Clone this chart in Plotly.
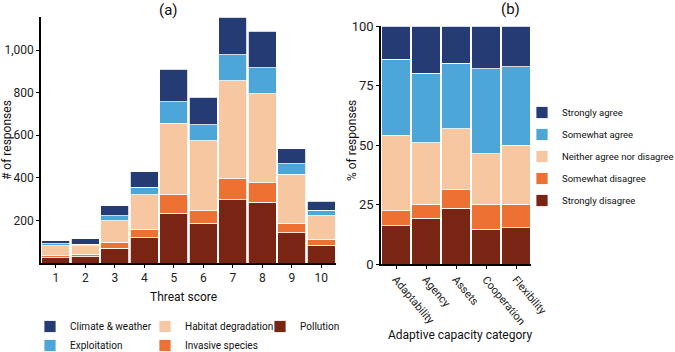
import plotly.graph_objects as go

# ---------- Panel (a) data ----------
threat_scores = [1, 2, 3, 4, 5, 6, 7, 8, 9, 10]
pollution = [25, 30, 69, 119, 233, 186, 297, 286, 141, 84]
invasive_species = [10, 11, 29, 40, 87, 59, 98, 94, 45, 27]
habitat_degradation = [45, 39, 100, 161, 336, 330, 460, 415, 231, 112]
exploitation = [10, 8, 25, 36, 100, 75, 122, 121, 50, 25]
climate_weather = [15, 26, 46, 72, 153, 128, 178, 172, 69, 41]

# ---------- Panel (b) data ----------
capacity_categories = ["Adaptability", "Agency", "Assets", "Cooperation", "Flexibility"]
strongly_disagree = [16.0, 19.2, 23.5, 14.6, 15.3]
somewhat_disagree = [6.4, 5.9, 7.8, 10.3, 9.9]
neither = [31.6, 25.9, 25.5, 21.5, 24.7]
somewhat_agree = [32.1, 29.1, 27.5, 35.6, 33.0]
strongly_agree = [13.9, 19.9, 15.7, 18.0, 17.1]

C_NAVY = "#243B73"
C_LBLUE = "#4DA6D8"
C_PEACH = "#F6C7A0"
C_ORANGE = "#EE7134"
C_DRED = "#7A2514"

FONT = "Roboto, Open Sans, sans-serif"
W, H = 675, 352

fig = go.Figure()

a_series = [
    ("Pollution", pollution, C_DRED, "legend3"),
    ("Invasive species", invasive_species, C_ORANGE, "legend2"),
    ("Habitat degradation", habitat_degradation, C_PEACH, "legend2"),
    ("Exploitation", exploitation, C_LBLUE, "legend"),
    ("Climate & weather", climate_weather, C_NAVY, "legend"),
]
for name, vals, col, lg in a_series:
    fig.add_trace(go.Bar(
        x=threat_scores, y=vals, name=name, marker_color=col,
        marker_line=dict(color="white", width=0.8),
        xaxis="x", yaxis="y", legend=lg,
    ))

b_series = [
    ("Strongly disagree", strongly_disagree, C_DRED, 5),
    ("Somewhat disagree", somewhat_disagree, C_ORANGE, 4),
    ("Neither agree nor disagree", neither, C_PEACH, 3),
    ("Somewhat agree", somewhat_agree, C_LBLUE, 2),
    ("Strongly agree", strongly_agree, C_NAVY, 1),
]
for name, vals, col, rank in b_series:
    fig.add_trace(go.Bar(
        x=capacity_categories, y=vals, name=name, marker_color=col,
        marker_line=dict(color="white", width=0.8),
        xaxis="x2", yaxis="y2", legend="legend4", legendgroup=name,
        legendrank=rank,
    ))

def px_x(p):
    return p / W

def px_y(p):
    return 1 - p / H

def axis_common(size):
    return dict(
        showline=True, linecolor="black", linewidth=1.5,
        ticks="outside", ticklen=3, tickcolor="black", tickwidth=1,
        showgrid=False, zeroline=False, automargin=False,
        tickfont=dict(family=FONT, size=size, color="#222"),
    )

def leg(xpx, ypx, size, order="reversed", gap=0):
    return dict(
        font=dict(family=FONT, size=size, color="#111"),
        orientation="v", traceorder=order,
        xref="container", yref="container",
        x=px_x(xpx), y=px_y(ypx),
        xanchor="left", yanchor="top", bgcolor="rgba(0,0,0,0)",
        tracegroupgap=gap, borderwidth=0,
    )

def ann(text, x, y, size, angle=0):
    return dict(text=text, x=px_x(x), y=px_y(y), xref="paper", yref="paper",
                xanchor="center", yanchor="middle", textangle=angle,
                showarrow=False, font=dict(family=FONT, size=size, color="#111"))

fig.update_layout(
    width=W, height=H,
    margin=dict(l=0, r=0, t=0, b=0, autoexpand=False),
    paper_bgcolor="white", plot_bgcolor="white",
    barmode="stack", bargap=0.06,
    font=dict(family=FONT, size=13, color="#111"),
    xaxis=dict(
        domain=[px_x(41), px_x(336)], anchor="y",
        range=[0.5, 10.5], tickvals=threat_scores,
        **axis_common(12),
    ),
    yaxis=dict(
        domain=[px_y(263), px_y(17)], anchor="x",
        range=[0, 1155], tickvals=[200, 400, 600, 800, 1000], tickformat=",",
        **axis_common(12),
    ),
    xaxis2=dict(
        domain=[px_x(381), px_x(531)], anchor="y2",
        range=[-0.5, 4.5], tickangle=50,
        **axis_common(11),
    ),
    yaxis2=dict(
        domain=[px_y(264), px_y(26)], anchor="x2",
        range=[0, 100], tickvals=[0, 25, 50, 75, 100],
        **axis_common(13),
    ),
    legend=leg(30, 312, 10),
    legend2=leg(145, 312, 10),
    legend3=leg(260, 312, 10),
    legend4=leg(522, 98, 9.5, order="grouped", gap=3),
    annotations=[
        ann("(a)", 168, 10, 15),
        ann("(b)", 510, 9, 15),
        ann("Threat score", 183, 297, 12),
        ann("# of responses", 7, 140, 12, -90),
        ann("Adaptive capacity category", 460, 335, 12),
        ann("% of responses", 352, 140, 12, -90),
    ],
)

fig.write_html(
    "out.html",
    config={"displayModeBar": False},
    post_script="document.body.style.margin='0';document.body.style.padding='0';",
)
